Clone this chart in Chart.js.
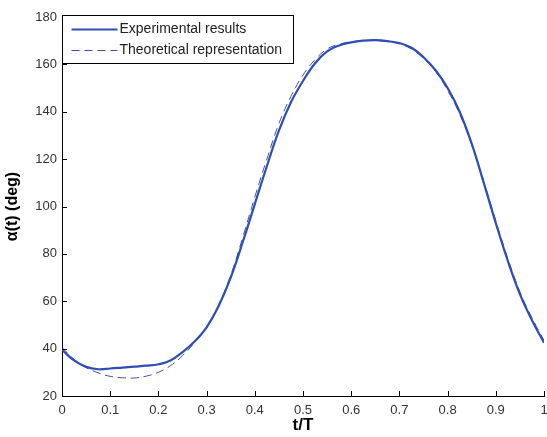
<!DOCTYPE html>
<html>
<head>
<meta charset="utf-8">
<script src="https://cdn.jsdelivr.net/npm/chart.js@4/dist/chart.umd.min.js"></script>
<style>
  html, body { margin: 0; padding: 0; background: #fff; }
  #wrap { width: 547px; height: 437px; }
</style>
</head>
<body>
<div id="wrap"><canvas id="line-chart" width="547" height="437"></canvas></div>
<script>
// t/T sample positions
const tValues = [0, 0.025, 0.05, 0.075, 0.1, 0.125, 0.15, 0.175, 0.2, 0.225, 0.25, 0.275, 0.3, 0.325, 0.35, 0.375, 0.4, 0.425, 0.45, 0.475, 0.5,
  0.525, 0.55, 0.575, 0.6, 0.625, 0.65, 0.675, 0.7, 0.725, 0.75, 0.775, 0.8, 0.825, 0.85, 0.875, 0.9, 0.925, 0.95, 0.975, 1]

const experimental = [39.5, 35, 32.3, 31.3, 31.6, 32, 32.4, 32.8, 33.4, 35, 38.5, 43, 49, 58, 70, 85, 101, 117, 132, 144, 153,
  160.5, 165.5, 168, 169.3, 170, 170.2, 169.8, 169, 167, 163, 157.5, 150, 140, 126.5, 110, 93, 77, 63, 52, 42.5]

const theoretical = [40.5, 35.5, 32, 29.8, 28.3, 27.7, 27.6, 28.4, 30, 32.8, 37, 42.5, 49, 58.5, 71, 87, 104, 120, 135, 146.5, 155.5,
  162, 166.5, 168.5, 169.5, 170, 170, 169.6, 168.6, 166.5, 162.5, 157, 149, 139, 126, 110.5, 94, 78, 64, 53, 43.5]

const xTicks = [0, 0.1, 0.2, 0.3, 0.4, 0.5, 0.6, 0.7, 0.8, 0.9, 1]
const yTicks = [20, 40, 60, 80, 100, 120, 140, 160, 180]

const seriesLabels = ['Experimental results', 'Theoretical representation']

window.onload = () => {
  const font = '"Liberation Sans", Arial, sans-serif'

  // inward tick marks like matlab
  const innerTicks = {
    id: 'innerTicks',
    afterDraw(chart) {
      const ctx = chart.ctx
      const xs = chart.scales.x, ys = chart.scales.y
      ctx.save()
      ctx.strokeStyle = '#000'
      ctx.lineWidth = 1
      ctx.beginPath()
      xTicks.forEach(v => {
        const px = Math.round(xs.getPixelForValue(v)) + 0.5
        ctx.moveTo(px, ys.bottom)
        ctx.lineTo(px, ys.bottom - 5)
      })
      yTicks.forEach(v => {
        const py = Math.round(ys.getPixelForValue(v)) + 0.5
        ctx.moveTo(xs.left, py)
        ctx.lineTo(xs.left + 5, py)
      })
      ctx.stroke()
      ctx.restore()
    }
  }

  // legend box in the top-left corner of the plot
  const boxLegend = {
    id: 'boxLegend',
    afterDraw(chart) {
      const ctx = chart.ctx
      const a = chart.chartArea
      const x0 = a.left + 0.5, y0 = a.top - 1.5
      const w = 231, h = 48
      ctx.save()
      ctx.fillStyle = '#fff'
      ctx.fillRect(x0, y0, w, h)
      ctx.strokeStyle = '#000'
      ctx.lineWidth = 1
      ctx.strokeRect(x0, y0, w, h)
      ctx.font = '14px ' + font
      ctx.textBaseline = 'middle'
      chart.data.datasets.forEach((ds, i) => {
        const yy = y0 + 14 + i * 21
        ctx.strokeStyle = ds.borderColor
        ctx.lineWidth = ds.borderWidth
        ctx.setLineDash(ds.borderDash || [])
        ctx.beginPath()
        ctx.moveTo(x0 + 9, yy)
        ctx.lineTo(x0 + 55, yy)
        ctx.stroke()
        ctx.setLineDash([])
        ctx.fillStyle = '#222'
        ctx.fillText(ds.label, x0 + 57, yy)
      })
      ctx.restore()
    }
  }

  new Chart(document.getElementById('line-chart'), {
    type: 'line',
    data: {
      datasets: [{
          label: seriesLabels[0],
          data: tValues.map((t, i) => ({ x: t, y: experimental[i] })),
          borderColor: '#2f4db3',
          borderWidth: 2.2,
          pointRadius: 0,
          tension: 0.4,
          fill: false
        }, {
          label: seriesLabels[1],
          data: tValues.map((t, i) => ({ x: t, y: theoretical[i] })),
          borderColor: '#3c4fa8',
          borderWidth: 1,
          borderDash: [8, 5],
          pointRadius: 0,
          tension: 0.4,
          fill: false
        }
      ]
    },
    options: {
      responsive: false,
      animation: false,
      layout: { padding: { top: 17, right: 3, left: 0, bottom: 0 } },
      plugins: { legend: { display: false }, tooltip: { enabled: false } },
      scales: {
        x: {
          type: 'linear',
          min: 0, max: 1,
          afterBuildTicks: s => { s.ticks = xTicks.map(v => ({ value: v })) },
          afterFit: s => { s.height = 41; s.paddingLeft = 0; s.paddingRight = 0 },
          grid: { display: false, drawTicks: false },
          border: { display: true, color: '#000', width: 1 },
          ticks: {
            padding: 7,
            color: '#333',
            font: { family: font, size: 13 },
            callback: v => String(v)
          },
          title: {
            display: true,
            text: 't/T',
            color: '#000',
            font: { family: font, size: 17, weight: 'bold' },
            padding: { top: 0, bottom: 1 }
          }
        },
        y: {
          min: 20, max: 180,
          afterBuildTicks: s => { s.ticks = yTicks.map(v => ({ value: v })) },
          afterFit: s => { s.width = 62; s.paddingTop = 0; s.paddingBottom = 0 },
          grid: { display: false, drawTicks: false },
          border: { display: true, color: '#000', width: 1 },
          ticks: {
            padding: 5,
            color: '#333',
            font: { family: font, size: 13 },
            callback: v => String(v)
          },
          title: {
            display: true,
            text: 'α(t) (deg)',
            color: '#000',
            font: { family: font, size: 16, weight: 'bold' },
            padding: { top: 3, bottom: 0 }
          }
        }
      }
    },
    plugins: [innerTicks, boxLegend]
  })
}
</script>
</body>
</html>
